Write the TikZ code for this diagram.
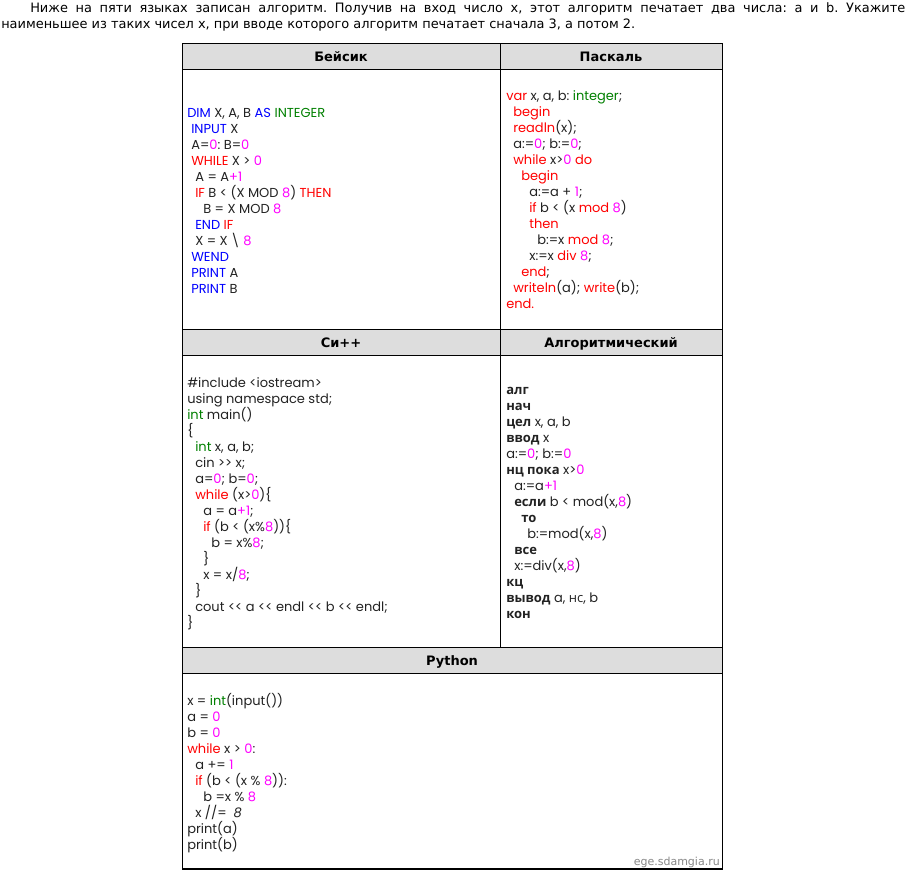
\documentclass[tikz,border=0pt]{standalone}
\usepackage{fontspec}
\setmainfont{DejaVu Sans}
\newfontfamily\codef{Poppins}
\newfontfamily\cyrf{Open Sans}
\newfontfamily\headf{DejaVu Sans}
\definecolor{kwblue}{HTML}{0000FF}
\definecolor{kwred}{HTML}{FF0000}
\definecolor{kwgreen}{HTML}{008000}
\definecolor{kwmag}{HTML}{FF00FF}
\definecolor{codetxt}{HTML}{222222}
\definecolor{hdrfill}{HTML}{DDDDDD}
\definecolor{marktxt}{HTML}{888888}
\newcommand\KwB[1]{\textcolor{kwblue}{#1}}
\newcommand\KwR[1]{\textcolor{kwred}{#1}}
\newcommand\KwG[1]{\textcolor{kwgreen}{#1}}
\newcommand\KwM[1]{\textcolor{kwmag}{#1}}
\newcommand\KwC[1]{{\cyrf\bfseries #1}}
\frenchspacing
\tikzset{
  codeline/.style={anchor=base west, inner sep=0pt, text=codetxt,
    font=\codef\fontsize{9.75}{12}\selectfont},
  hdrtext/.style={anchor=base, inner sep=0pt, text=black,
    font=\headf\bfseries\fontsize{9.75}{12}\selectfont},
  paratext/.style={anchor=base west, inner sep=0pt, text=black,
    font=\fontsize{9.7}{12}\selectfont},
  gridline/.style={draw=black, line width=0.75pt},
}
\begin{document}
\begin{tikzpicture}[x=0.75pt,y=-0.75pt]
\useasboundingbox (0,0) rectangle (912,876);
\fill[white] (0,0) rectangle (912,876);
% intro text
\node[paratext] (p1) at (30,12) {\makebox[656.25pt][s]{Ниже на пяти языках записан алгоритм. Получив на вход число x, этот алгоритм печатает два числа: a и b. Укажите}};
\node[paratext] (p2) at (1,28) {наименьшее из таких чисел x, при вводе которого алгоритм печатает сначала 3, а потом 2.};
% table
\fill[hdrfill] (182,43) rectangle (722,69);
\fill[hdrfill] (182,329) rectangle (722,355);
\fill[hdrfill] (182,647) rectangle (722,673);
\draw[gridline] (182,43) rectangle (722,869);
\draw[gridline] (182,69) -- (722,69);
\draw[gridline] (182,329) -- (722,329);
\draw[gridline] (182,355) -- (722,355);
\draw[gridline] (182,647) -- (722,647);
\draw[gridline] (182,673) -- (722,673);
\draw[gridline] (500,43) -- (500,647);
\draw[line width=1.6pt] (182,869) -- (722,869);
% headers
\node[hdrtext] (h1) at (341,61) {Бейсик};
\node[hdrtext] (h2) at (611,61) {Паскаль};
\node[hdrtext] (h3) at (341,347) {Си++};
\node[hdrtext] (h4) at (611,347) {Алгоритмический};
\node[hdrtext] (h5) at (452,665) {Python};
% Basic
\node[codeline] (b1) at (187,117) {\KwB{DIM} X, A, B \KwB{AS} \KwG{INTEGER}};
\node[codeline] (b2) at (191,133) {\KwB{INPUT} X};
\node[codeline] (b3) at (191,149) {A=\KwM{0}: B=\KwM{0}};
\node[codeline] (b4) at (191,165) {\KwR{WHILE} X > \KwM{0}};
\node[codeline] (b5) at (195,181) {A = A\KwM{+1}};
\node[codeline] (b6) at (195,197) {\KwR{IF} B < (X MOD \KwM{8}) \KwR{THEN}};
\node[codeline] (b7) at (203,213) {B = X MOD \KwM{8}};
\node[codeline] (b8) at (195,229) {\KwB{END} \KwR{IF}};
\node[codeline] (b9) at (195,245) {X = X \textbackslash{} \KwM{8}};
\node[codeline] (b10) at (191,261) {\KwB{WEND}};
\node[codeline] (b11) at (191,277) {\KwB{PRINT} A};
\node[codeline] (b12) at (191,293) {\KwB{PRINT} B};
% Pascal
\node[codeline] (q1) at (506,100) {\KwR{var} x, a, b: \KwG{integer};};
\node[codeline] (q2) at (513,116) {\KwR{begin}};
\node[codeline] (q3) at (513,132) {\KwR{readln}(x);};
\node[codeline] (q4) at (513,148) {a:=\KwM{0}; b:=\KwM{0};};
\node[codeline] (q5) at (513,164) {\KwR{while} x>\KwM{0} \KwR{do}};
\node[codeline] (q6) at (521,180) {\KwR{begin}};
\node[codeline] (q7) at (529,196) {a:=a + \KwM{1};};
\node[codeline] (q8) at (529,212) {\KwR{if} b < (x \KwR{mod} \KwM{8})};
\node[codeline] (q9) at (529,228) {\KwR{then}};
\node[codeline] (q10) at (537,244) {b:=x \KwR{mod} \KwM{8};};
\node[codeline] (q11) at (529,260) {x:=x \KwR{div} \KwM{8};};
\node[codeline] (q12) at (521,276) {\KwR{end};};
\node[codeline] (q13) at (513,292) {\KwR{writeln}(a); \KwR{write}(b);};
\node[codeline] (q14) at (506,308) {\KwR{end.}};
% C++
\node[codeline] (c1) at (187,387) {\#include <iostream>};
\node[codeline] (c2) at (187,403) {using namespace std;};
\node[codeline] (c3) at (187,419) {\KwG{int} main()};
\node[codeline] (c4) at (187,435) {\{};
\node[codeline] (c5) at (195,451) {\KwG{int} x, a, b;};
\node[codeline] (c6) at (195,467) {cin >{}> x;};
\node[codeline] (c7) at (195,483) {a=\KwM{0}; b=\KwM{0};};
\node[codeline] (c8) at (195,499) {\KwR{while} (x>\KwM{0})\{};
\node[codeline] (c9) at (203,515) {a = a\KwM{+1};};
\node[codeline] (c10) at (203,531) {\KwR{if} (b < (x\%\KwM{8}))\{};
\node[codeline] (c11) at (211,547) {b = x\%\KwM{8};};
\node[codeline] (c12) at (203,563) {\}};
\node[codeline] (c13) at (203,579) {x = x/\KwM{8};};
\node[codeline] (c14) at (195,595) {\}};
\node[codeline] (c15) at (195,611) {cout <{}< a <{}< endl <{}< b <{}< endl;};
\node[codeline] (c16) at (187,627) {\}};
% Algorithmic
\node[codeline] (a1) at (506,394) {\KwC{алг}};
\node[codeline] (a2) at (506,410) {\KwC{нач}};
\node[codeline] (a3) at (506,426) {\KwC{цел} x, a, b};
\node[codeline] (a4) at (506,442) {\KwC{ввод} x};
\node[codeline] (a5) at (506,458) {a:=\KwM{0}; b:=\KwM{0}};
\node[codeline] (a6) at (506,474) {\KwC{нц пока} x>\KwM{0}};
\node[codeline] (a7) at (514,490) {a:=a\KwM{+1}};
\node[codeline] (a8) at (514,506) {\KwC{если} b < mod(x,\KwM{8})};
\node[codeline] (a9) at (521,522) {\KwC{то}};
\node[codeline] (a10) at (527,538) {b:=mod(x,\KwM{8})};
\node[codeline] (a11) at (514,554) {\KwC{все}};
\node[codeline] (a12) at (514,570) {x:=div(x,\KwM{8})};
\node[codeline] (a13) at (506,586) {\KwC{кц}};
\node[codeline] (a14) at (506,602) {\KwC{вывод} a, {\cyrf нс}, b};
\node[codeline] (a15) at (506,618) {\KwC{кон}};
% Python
\node[codeline] (y1) at (187,705) {x = \KwG{int}(input())};
\node[codeline] (y2) at (187,721) {a = \KwM{0}};
\node[codeline] (y3) at (187,737) {b = \KwM{0}};
\node[codeline] (y4) at (187,753) {\KwR{while} x > \KwM{0}:};
\node[codeline] (y5) at (195,769) {a += \KwM{1}};
\node[codeline] (y6) at (195,785) {\KwR{if} (b < (x \% \KwM{8})):};
\node[codeline] (y7) at (203,801) {b =x \% \KwM{8}};
\node[codeline] (y8) at (195,817) {x //=\ \ \textit{8}};
\node[codeline] (y9) at (187,833) {print(a)};
\node[codeline] (y10) at (187,849) {print(b)};
% watermark
\node[anchor=base east, inner sep=0pt, text=marktxt, font=\headf\fontsize{8.25}{10}\selectfont] (wm) at (720,865) {ege.sdamgia.ru};
\end{tikzpicture}
\end{document}
